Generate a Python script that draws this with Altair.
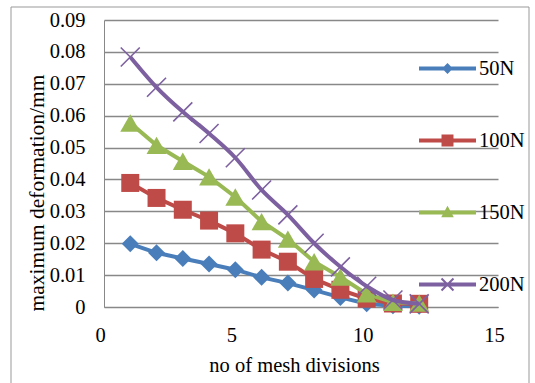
import altair as alt
import pandas as pd

# ---- data ----
divisions = [1, 2, 3, 4, 5, 6, 7, 8, 9, 10, 11, 12]
series_names = ["50N", "100N", "150N", "200N"]
def_50N = [0.0198, 0.0170, 0.0152, 0.0135, 0.0117, 0.0093, 0.0075, 0.0053, 0.0030, 0.0010, 0.0004, 0.0002]
def_100N = [0.0389, 0.0342, 0.0305, 0.0271, 0.0231, 0.0180, 0.0142, 0.0088, 0.0054, 0.0026, 0.0011, 0.0010]
def_150N = [0.0577, 0.0507, 0.0457, 0.0408, 0.0345, 0.0268, 0.0213, 0.0142, 0.0094, 0.0041, 0.0015, 0.0012]
def_200N = [0.0784, 0.0689, 0.0612, 0.0544, 0.0468, 0.0367, 0.0289, 0.0200, 0.0126, 0.0065, 0.0022, 0.0010]
x_ticks = [0, 5, 10, 15]
y_ticks = [0, 0.01, 0.02, 0.03, 0.04, 0.05, 0.06, 0.07, 0.08, 0.09]

colors = ["#4A7EBB", "#BE4B48", "#98B954", "#7D60A0"]
FONT = "Liberation Serif, Times New Roman, DejaVu Serif, serif"

rows = []
for name, vals in zip(series_names, [def_50N, def_100N, def_150N, def_200N]):
    for d, v in zip(divisions, vals):
        rows.append({"series": name, "div": d, "def": v})
df = pd.DataFrame(rows)

x = alt.X(
    "div:Q",
    scale=alt.Scale(domain=[0, 15], nice=False),
    axis=alt.Axis(
        values=x_ticks, grid=False, tickSize=0, domainColor="#888", domainWidth=1,
        labelFont=FONT, labelFontSize=20.5, labelColor="black",
        labelBaseline="alphabetic", labelPadding=34, labelOffset=-4, labelFlush=False,
        title="no of mesh divisions", titleFont=FONT, titleFontSize=20.5,
        titleFontWeight="normal", titleColor="black", titleX=190, titleY=64,
        titleBaseline="alphabetic", titleAlign="center",
    ),
)
y = alt.Y(
    "def:Q",
    scale=alt.Scale(domain=[0, 0.09], nice=False),
    axis=alt.Axis(
        values=y_ticks, grid=True, gridColor="#888", gridWidth=1.3, tickSize=0,
        domainColor="#888", domainWidth=1,
        labelFont=FONT, labelFontSize=20.5, labelColor="black", labelPadding=19,
        labelExpr="datum.value == 0 ? '0' : format(datum.value, '.2f')",
        title="maximum deformation/mm", titleFont=FONT, titleFontSize=21.5,
        titleFontWeight="normal", titleColor="black", titleAngle=270,
        titleX=-61, titleY=172.5, titleAlign="center", titleBaseline="alphabetic",
    ),
)

base = alt.Chart(df)

# outer chart border
border = alt.Chart(pd.DataFrame({"a": [0]})).mark_rect(
    fill="transparent", stroke="#999", strokeWidth=1
).encode(x=alt.value(-93), x2=alt.value(425), y=alt.value(-13), y2=alt.value(420))

X_PATH = "M-1,-1L1,1M-1,1L1,-1"
point_styles = [
    dict(shape="diamond", filled=True, size=289),
    dict(shape="square", filled=True, size=324),
    dict(shape="triangle-up", filled=True, size=400),
    dict(shape=X_PATH, filled=False, size=361, strokeWidth=1.6),
]
interps = ["linear", "linear", "linear", "monotone"]

layers = [border]
for i, name in enumerate(series_names):
    sub = base.transform_filter(alt.datum.series == name)
    line = sub.mark_line(color=colors[i], strokeWidth=4, interpolate=interps[i]).encode(x=x, y=y)
    st = dict(point_styles[i])
    pts = sub.mark_point(color=colors[i], opacity=1, **st).encode(x=x, y=y)
    layers += [line, pts]

# legend symbols: line + marker in one custom path (units -1..1)
LINE = "M-1,-0.07L1,-0.07L1,0.07L-1,0.07Z"
legend_paths = [
    LINE + "M0,-0.19L0.19,0L0,0.19L-0.19,0Z",
    LINE + "M-0.21,-0.21L0.21,-0.21L0.21,0.21L-0.21,0.21Z",
    LINE + "M0,-0.24L0.22,0.17L-0.22,0.17Z",
    LINE + "M-0.185,-0.235L0.235,0.185L0.185,0.235L-0.235,-0.185Z"
         + "M-0.235,0.185L0.185,-0.235L0.235,-0.185L-0.185,0.235Z",
]
leg = alt.Legend(
    title=None, orient="none", legendX=315, legendY=20, direction="vertical",
    symbolSize=3249, rowPadding=33, labelFont=FONT, labelFontSize=20.5,
    labelColor="black", labelOffset=3, symbolStrokeWidth=0, symbolOpacity=1, padding=0,
)
legend_layer = base.mark_point(filled=True, clip=True, opacity=1, strokeWidth=0).encode(
    x=x,
    y=alt.value(-2000),
    color=alt.Color("series:N", scale=alt.Scale(domain=series_names, range=colors), legend=leg),
    shape=alt.Shape("series:N", scale=alt.Scale(domain=series_names, range=legend_paths), legend=leg),
)
layers.append(legend_layer)

chart = alt.layer(*layers).properties(
    width=394, height=287,
    autosize=alt.AutoSizeParams(type="none"),
    padding={"left": 104, "top": 20, "right": 37, "bottom": 76},
    background="white",
).configure_view(strokeWidth=0)

chart.save("out.html", embed_options={"renderer": "svg", "actions": False})
